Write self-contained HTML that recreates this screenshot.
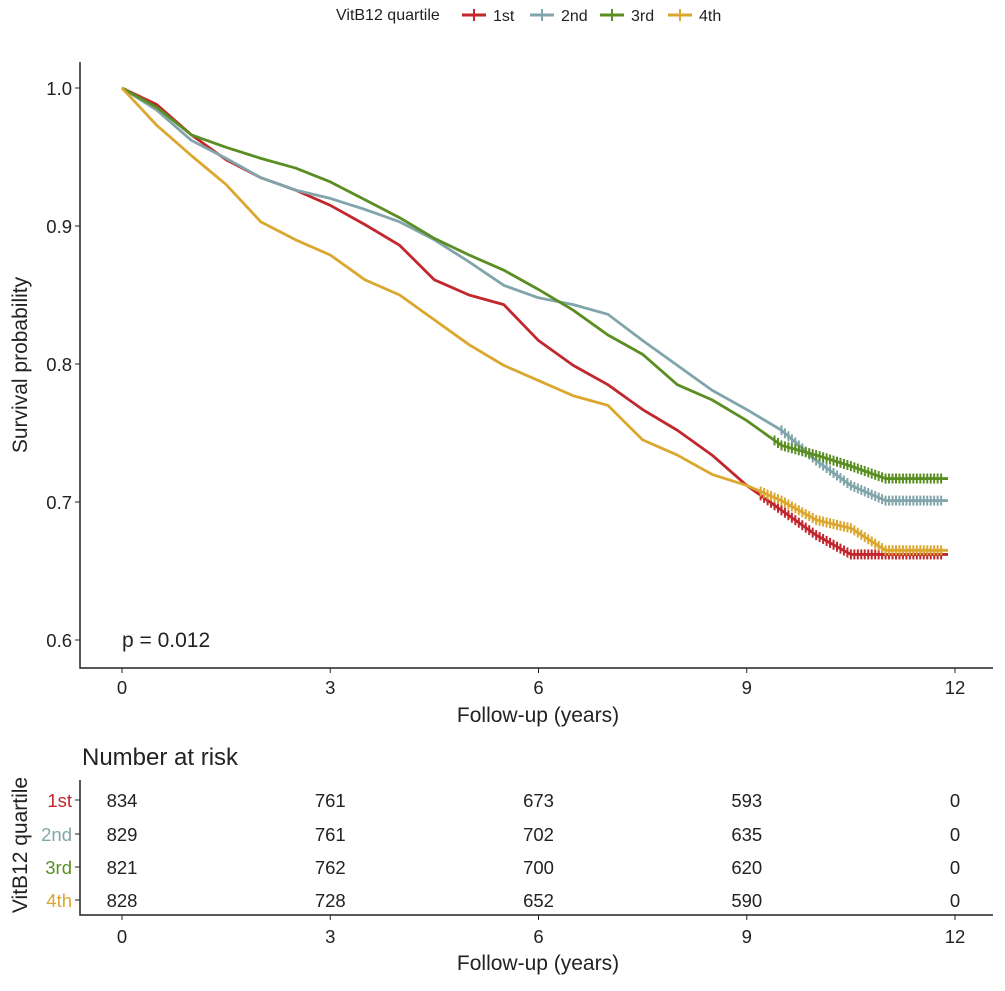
<!DOCTYPE html>
<html><head><meta charset="utf-8"><style>
body{margin:0;background:#fff;font-family:"Liberation Sans",Arial,sans-serif}
svg text{font-family:"Liberation Sans",Arial,sans-serif}
</style></head><body>
<svg id="c" width="1005" height="986" xmlns="http://www.w3.org/2000/svg">
<g id="legend">
<text x="336" y="20" font-size="16" fill="#222">VitB12 quartile</text>
</g>
<g id="plot"></g>
<g id="risk"></g>
</svg>
<script>
const times=[0,0.5,1,1.5,2,2.5,3,3.5,4,4.5,5,5.5,6,6.5,7,7.5,8,8.5,9,9.5,10,10.5,11,11.9];
const surv1st=[1,.988,.966,.948,.935,.926,.915,.901,.886,.861,.850,.843,.817,.799,.785,.767,.752,.734,.712,.694,.676,.662,.662,.662];
const surv2nd=[1,.984,.962,.949,.935,.926,.920,.912,.903,.890,.874,.857,.848,.843,.836,.817,.799,.781,.767,.752,.730,.712,.701,.701];
const surv3rd=[1,.986,.966,.957,.949,.942,.932,.919,.906,.891,.879,.868,.854,.839,.821,.807,.785,.774,.759,.741,.734,.726,.717,.717];
const surv4th=[1,.973,.951,.930,.903,.890,.879,.861,.850,.832,.814,.799,.788,.777,.770,.745,.734,.720,.712,.701,.687,.681,.665,.665];
const groups=["1st","2nd","3rd","4th"];
const colors=["#c1272d","#80a5aa","#5a8e23","#dba72e"];
const xTicks=[0,3,6,9,12];
const yTicks=[0.6,0.7,0.8,0.9,1.0];
const risk1st=[834,761,673,593,0];
const risk2nd=[829,761,702,635,0];
const risk3rd=[821,762,700,620,0];
const risk4th=[828,728,652,590,0];
const series=[surv1st,surv2nd,surv3rd,surv4th];
const risks=[risk1st,risk2nd,risk3rd,risk4th];
const X=t=>122+t*(955-122)/12;
const Y=s=>88+(1-s)*1380;
const NS="http://www.w3.org/2000/svg";
function mk(tag,at,parent,txt){const e=document.createElementNS(NS,tag);for(const k in at)e.setAttribute(k,at[k]);if(txt!==undefined)e.textContent=txt;parent.appendChild(e);return e;}
const plot=document.getElementById('plot'),risk=document.getElementById('risk'),legend=document.getElementById('legend');
const lx=[462,530,600,668];
groups.forEach((g,i)=>{
 const k=mk('line',{x1:lx[i],y1:15,x2:lx[i]+24,y2:15,stroke:colors[i],'stroke-width':3},legend);
 
 
 const v=mk('line',{x1:lx[i]+12,y1:9,x2:lx[i]+12,y2:21,stroke:colors[i],'stroke-width':2},legend);
 
 
 const t=mk('text',{x:lx[i]+31,y:21,'font-size':16,fill:'#222'},legend,g);
 
 
});
const ax=mk('path',{d:'M80,62V668H993',fill:'none',stroke:'#222','stroke-width':1.5},plot);


yTicks.forEach(v=>{
 mk('line',{x1:75,x2:80,y1:Y(v),y2:Y(v),stroke:'#222'},plot);
 const t=mk('text',{x:72,y:Y(v)+7,'font-size':18.5,'text-anchor':'end',fill:'#222'},plot,v.toFixed(1));
 
 
});
xTicks.forEach(v=>{
 mk('line',{x1:X(v),x2:X(v),y1:668,y2:673,stroke:'#222'},plot);
 const t=mk('text',{x:X(v),y:694,'font-size':18.5,'text-anchor':'middle',fill:'#222'},plot,v);
 
 
});
let t=mk('text',{x:538,y:722,'font-size':21,'text-anchor':'middle',fill:'#222'},plot,'Follow-up (years)');


t=mk('text',{x:27,y:365,'font-size':21,'text-anchor':'middle',fill:'#222',transform:'rotate(-90 27 365)'},plot,'Survival probability');


t=mk('text',{x:122,y:647,'font-size':21,fill:'#222'},plot,'p = 0.012');


function interp(s,tt){for(let j=1;j<times.length;j++){if(tt<=times[j]){const f=(tt-times[j-1])/(times[j]-times[j-1]);return s[j-1]+f*(s[j]-s[j-1]);}}return s[s.length-1];}
series.forEach((s,i)=>{
 let d='M'+X(times[0])+','+Y(s[0]);
 for(let j=1;j<times.length;j++) d+='L'+X(times[j])+','+Y(s[j]);
 const p=mk('path',{d:d,fill:'none',stroke:colors[i],'stroke-width':2.8,'stroke-linejoin':'round'},plot);
 
 
 const start=i==1?9.5:(i==2?9.4:9.2);
 for(let tt=start;tt<=11.85;tt+=0.05){
  const x=X(tt),yy=Y(interp(s,tt));
  const m=mk('line',{x1:x,x2:x,y1:yy-5,y2:yy+5,stroke:colors[i],'stroke-width':2},plot);
  
  
 }
});
t=mk('text',{x:82,y:765,'font-size':24,fill:'#222'},risk,'Number at risk');


const rax=mk('path',{d:'M80,780V915H993',fill:'none',stroke:'#222','stroke-width':1.5},risk);


const rowY=[800,834,867,900];
groups.forEach((g,i)=>{
 mk('line',{x1:75,x2:80,y1:rowY[i],y2:rowY[i],stroke:'#222'},risk);
 const l=mk('text',{x:72,y:rowY[i]+7,'font-size':18.5,'text-anchor':'end',fill:colors[i]},risk,g);
 
 
 risks[i].forEach((v,j)=>{
  const c=mk('text',{x:X(xTicks[j]),y:rowY[i]+7,'font-size':18.5,'text-anchor':'middle',fill:'#222'},risk,v);
  
  
 });
});
xTicks.forEach(v=>{
 mk('line',{x1:X(v),x2:X(v),y1:915,y2:920,stroke:'#222'},risk);
 const c=mk('text',{x:X(v),y:943,'font-size':18.5,'text-anchor':'middle',fill:'#222'},risk,v);
 
 
});
t=mk('text',{x:538,y:970,'font-size':21,'text-anchor':'middle',fill:'#222'},risk,'Follow-up (years)');


t=mk('text',{x:27,y:845,'font-size':21,'text-anchor':'middle',fill:'#222',transform:'rotate(-90 27 845)'},risk,'VitB12 quartile');


</script>
</body></html>
